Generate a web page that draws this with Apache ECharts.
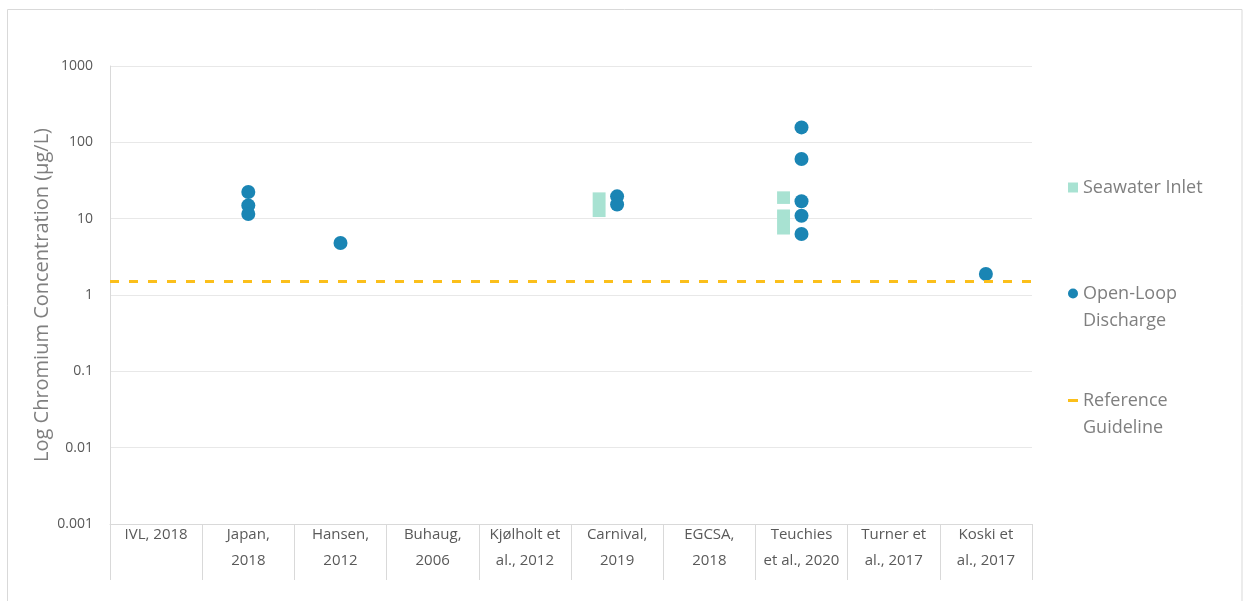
<!DOCTYPE html>
<html>
<head>
<meta charset="utf-8">
<script src="https://cdn.jsdelivr.net/npm/echarts@6/dist/echarts.min.js"></script>
<style>
  html, body { margin: 0; padding: 0; background: #fff; }
  #chart { width: 1243px; height: 601px; }
</style>
</head>
<body>
<div id="chart"></div>
<script>
	// 数据
	var categories = ['IVL, 2018', 'Japan,\n2018', 'Hansen,\n2012', 'Buhaug,\n2006', 'Kjølholt et\nal., 2012',
		'Carnival,\n2019', 'EGCSA,\n2018', 'Teuchies\net al., 2020', 'Turner et\nal., 2017', 'Koski et\nal., 2017'];
	// [category index, value]
	var dischargeData = [
		[1, 22.4], [1, 14.9], [1, 11.5],
		[2, 4.8],
		[5, 19.6], [5, 15.3],
		[7, 157], [7, 60.5], [7, 16.9], [7, 10.9], [7, 6.3],
		[9, 1.88]
	];
	// [category index, low, high]
	var inletData = [
		[5, 10.5, 22.1],
		[7, 15.6, 22.8],
		[7, 6.2, 13.2]
	];
	var guideline = 1.5;
	var yTicks = [0.001, 0.01, 0.1, 1, 10, 100, 1000];

	var myChart = echarts.init(document.getElementById('chart'));
	var font = 'Open Sans';
	var legendText = { fontSize: 18, color: '#7f7f7f', fontFamily: font, lineHeight: 27 };
	// 两行图例：前面加一个空行，让图标对齐第一行
	var twoLines = function (n) { return ' \n' + n.replace(' ', '\n'); };

	var option = {
		animation: false,
		textStyle: { fontFamily: font },
		graphic: [{
			type: 'rect',
			shape: { x: 7.5, y: 9.5, width: 1234.5, height: 600 },
			style: { fill: 'none', stroke: '#d9d9d9', lineWidth: 1 },
			silent: true
		}],
		grid: { left: 110, right: 211, top: 66, bottom: 77 },
		legend: [{
			data: [{ name: 'Seawater Inlet', icon: 'rect' }],
			left: 1063, top: 169,
			itemWidth: 10, itemHeight: 10,
			selectedMode: false,
			textStyle: legendText
		}, {
			data: [{ name: 'Open-Loop Discharge', icon: 'circle' }],
			left: 1063, top: 248,
			itemWidth: 10, itemHeight: 10,
			selectedMode: false,
			formatter: twoLines,
			textStyle: legendText
		}, {
			data: [{ name: 'Reference Guideline', icon: 'rect' }],
			left: 1063, top: 355,
			itemWidth: 10, itemHeight: 3,
			selectedMode: false,
			formatter: twoLines,
			textStyle: legendText
		}],
		xAxis: {
			type: 'category',
			data: categories,
			boundaryGap: true,
			axisLine: { lineStyle: { color: '#d9d9d9' } },
			axisTick: { show: true, interval: 0, length: 56, lineStyle: { color: '#d9d9d9' } },
			axisLabel: {
				interval: 0, margin: -2, color: '#595959', fontSize: 15, lineHeight: 26, fontFamily: font
			},
			splitLine: { show: false }
		},
		yAxis: {
			type: 'log',
			logBase: 10,
			min: yTicks[0],
			max: yTicks[yTicks.length - 1],
			name: 'Log Chromium Concentration (µg/L)',
			nameLocation: 'middle',
			nameGap: 58,
			nameMoveOverlap: false,
			nameTextStyle: { fontSize: 20, color: '#7f7f7f', fontFamily: font },
			axisLine: { show: true, lineStyle: { color: '#d9d9d9' } },
			axisTick: { show: false },
			axisLabel: {
				margin: 17, color: '#595959', fontSize: 14, fontFamily: font,
				formatter: function (v) { return String(+v.toPrecision(6)); }
			},
			splitLine: { lineStyle: { color: '#e8e8e8' } }
		},
		series: [{
			name: 'Seawater Inlet',
			type: 'custom',
			itemStyle: { color: '#a8e2d2' },
			encode: { x: 0, y: [1, 2] },
			renderItem: function (params, api) {
				var c = api.value(0);
				var lo = api.coord([c, api.value(1)]);
				var hi = api.coord([c, api.value(2)]);
				var band = api.coord([1, api.value(1)])[0] - api.coord([0, api.value(1)])[0];
				var w = band * 0.14;
				var cx = lo[0] - band * 0.195;
				return {
					type: 'rect',
					shape: { x: cx - w / 2, y: hi[1], width: w, height: lo[1] - hi[1] },
					style: api.style()
				};
			},
			data: inletData
		}, {
			name: 'Open-Loop Discharge',
			type: 'scatter',
			symbolSize: 14,
			itemStyle: { color: '#1a85b4', opacity: 1 },
			data: dischargeData
		}, {
			name: 'Reference Guideline',
			type: 'line',
			itemStyle: { color: '#fbbf1b' },
			data: [],
			markLine: {
				silent: true,
				symbol: 'none',
				label: { show: false },
				lineStyle: { color: '#fbbf1b', width: 3, type: [9, 10] },
				data: [{ yAxis: guideline }]
			}
		}]
	};

	myChart.setOption(option);
</script>
</body>
</html>
